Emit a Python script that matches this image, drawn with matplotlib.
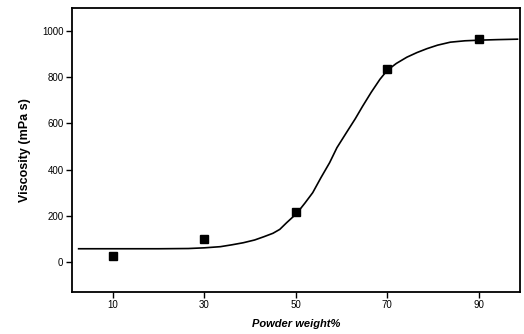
import matplotlib
matplotlib.use("Agg")
import matplotlib.pyplot as plt

# measured data points
powder_pct = [10, 30, 50, 70, 90]
viscosity = [26, 100, 217, 835, 965]

# fitted curve
curve_x = [2.5, 10, 20, 26.5, 30, 33.5, 36, 38.5, 41, 43, 45, 46.5, 48, 50.2,
           52, 53.7, 55.5, 57.4, 59, 61.1, 63, 64.6, 66.5, 68.4, 70, 72,
           74.3, 76.5, 78.7, 81, 83.8, 87, 90.6, 94, 98.5]
curve_y = [57, 57, 57, 58, 61, 66, 74, 83, 95, 109, 124, 141, 170, 210,
           255, 300, 365, 430, 495, 561, 620, 674, 735, 791, 830, 860,
           887, 907, 924, 939, 952, 958, 961, 963, 965]

xticks = [10, 30, 50, 70, 90]
yticks = [0, 200, 400, 600, 800, 1000]

plt.rcParams['font.family'] = ['Liberation Sans', 'DejaVu Sans']

fig = plt.figure(figsize=(5.24, 3.34), dpi=100)
ax = fig.add_axes([0.137, 0.126, 0.855, 0.85])

ax.plot(curve_x, curve_y, color='black', lw=1.2)
ax.plot(powder_pct, viscosity, linestyle='none', marker='s', color='black',
        markersize=6)

ax.set_xlim(1, 99)
ax.set_ylim(-130, 1100)
ax.set_xticks(xticks)
ax.set_yticks(yticks)
ax.tick_params(direction='out', length=4, width=1, labelsize=7, pad=2)
for s in ax.spines.values():
    s.set_linewidth(1.3)

ax.set_xlabel('Powder weight%', fontsize=8, fontstyle='italic', fontweight='bold', labelpad=6)
ax.set_ylabel('Viscosity (mPa s)', fontsize=9, fontweight='bold', labelpad=8)

fig.savefig('out.png', dpi=100)
